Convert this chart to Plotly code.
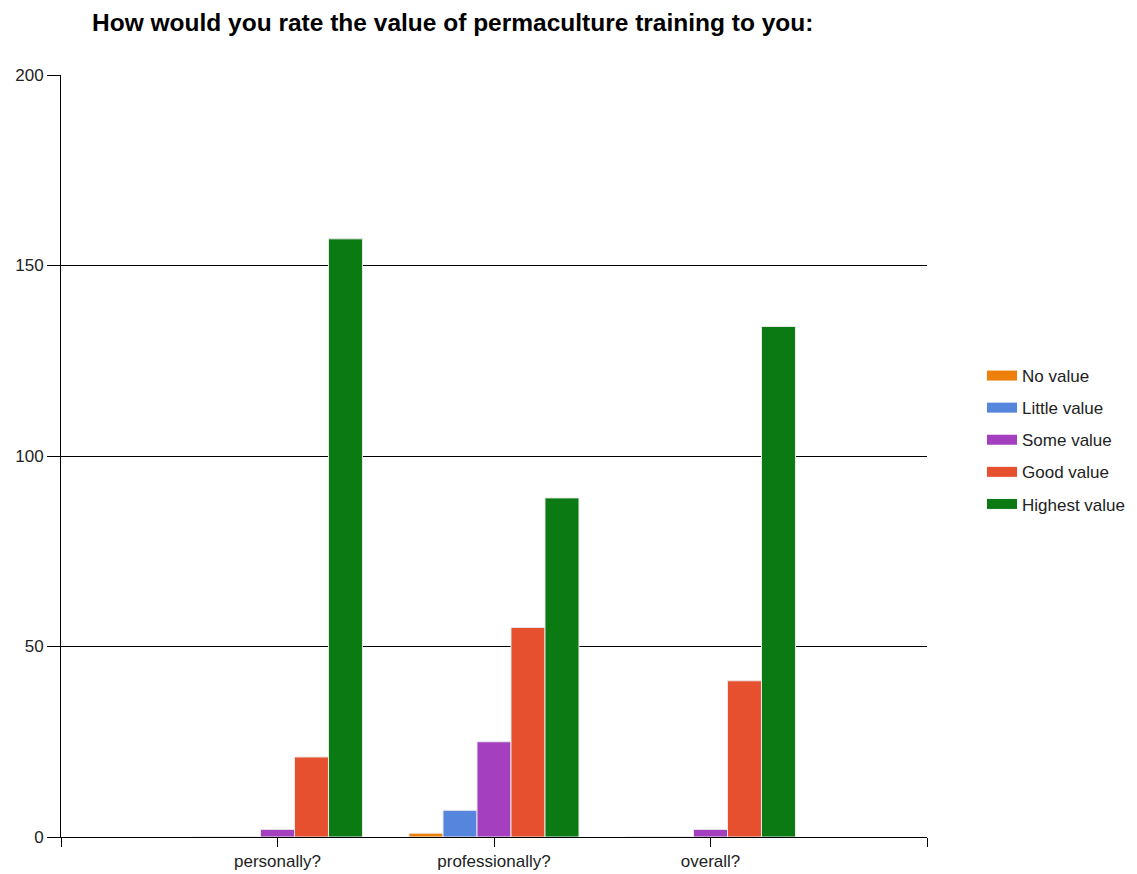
import plotly.graph_objects as go

categories = ["personally?", "professionally?", "overall?"]
series_names = ["No value", "Little value", "Some value", "Good value", "Highest value"]
no_value = [0, 1, 0]
little_value = [0, 7, 0]
some_value = [2, 25, 2]
good_value = [21, 55, 41]
highest_value = [157, 89, 134]
y_ticks = [0, 50, 100, 150, 200]

series_values = [no_value, little_value, some_value, good_value, highest_value]
colors = ["#EE7F0A", "#5585DC", "#A43FBF", "#E6502F", "#0B7A12"]

x_pos = [1, 2, 3]

fig = go.Figure()
for name, vals, col in zip(series_names, series_values, colors):
    fig.add_trace(go.Bar(
        x=x_pos, y=vals, name=name, legendgroup=name, showlegend=False,
        marker=dict(color=col, line=dict(color="#E8E8E8", width=1)),
    ))
# legend entries drawn as wide swatches
for name, col in zip(series_names, colors):
    fig.add_trace(go.Scatter(
        x=[None], y=[None], name=name, legendgroup=name, mode="lines",
        line=dict(color=col, width=12), hoverinfo="skip",
    ))

# page body has an 8px margin; compensate so the plot lands where the reference has it
OFF = 8
W, H = 1137 - OFF, 874 - OFF
L, T, PW, PH = 61 - OFF, 75 - OFF, 866, 762

font_family = "Liberation Sans, Arial, sans-serif"
fig.update_layout(
    width=W, height=H,
    margin=dict(l=L, r=W - L - PW, t=T, b=H - T - PH, autoexpand=False),
    paper_bgcolor="white", plot_bgcolor="white",
    barmode="group", bargap=0.215, bargroupgap=0,
    font=dict(family=font_family, size=17, color="#222"),
    title=dict(text="<b>How would you rate the value of permaculture training to you:</b>",
               x=(92 - OFF) / W, xanchor="left", xref="container",
               y=1 - (22 - OFF) / H, yanchor="middle", yref="container",
               font=dict(family=font_family, size=24.5, color="black")),
    xaxis=dict(range=[0, 4], tickvals=[0] + x_pos + [4], ticktext=[""] + categories + [""],
               showgrid=False, zeroline=False, showline=True, linecolor="black", linewidth=1,
               ticks="outside", ticklen=9, tickcolor="black",
               tickfont=dict(size=17, color="#222"), fixedrange=True),
    yaxis=dict(range=[0, 200], tickvals=y_ticks, showgrid=True, gridcolor="black", gridwidth=1,
               zeroline=False, showline=True, linecolor="black", linewidth=1,
               ticks="outside", ticklen=13, tickcolor="black",
               tickfont=dict(size=17, color="#222"), fixedrange=True),
    legend=dict(x=(982 - 61) / PW, xanchor="left", y=(837 - 440) / PH, yanchor="middle",
                traceorder="grouped", tracegroupgap=7,
                font=dict(size=17, color="#222")),
    showlegend=True,
)

fig.write_html("out.html")
